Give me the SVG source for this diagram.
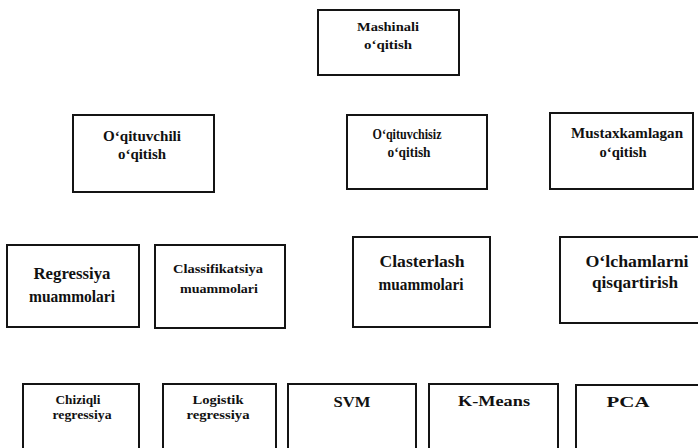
<svg xmlns="http://www.w3.org/2000/svg" width="698" height="448" viewBox="0 0 698 448">
<style>
rect.b{fill:#fff;stroke:#141414;stroke-width:2}
text{font-family:"Liberation Serif","Times New Roman",serif;font-weight:bold;fill:#111;text-anchor:middle}
.x{font-size:12px}
.s{font-size:13px}
.n{font-size:14px}
.m{font-size:15px}
.l{font-size:16px}
</style>
<rect width="698" height="448" fill="#fff"/>
<g id="connectors"></g>
<g id="n-mashinali">
<rect class="b" x="318" y="10" width="141" height="65"/>
<text class="s" x="388" y="31" textLength="62" lengthAdjust="spacingAndGlyphs">Mashinali</text>
<text class="s" x="388" y="49" textLength="48" lengthAdjust="spacingAndGlyphs">o‘qitish</text>
</g>
<g id="n-oqituvchili">
<rect class="b" x="73" y="115" width="141" height="77"/>
<text class="n" x="142" y="141" textLength="78" lengthAdjust="spacingAndGlyphs">O‘qituvchili</text>
<text class="n" x="142" y="159" textLength="48" lengthAdjust="spacingAndGlyphs">o‘qitish</text>
</g>
<g id="n-oqituvchisiz">
<rect class="b" x="347" y="115" width="140" height="74"/>
<text class="n" x="407" y="139" textLength="69" lengthAdjust="spacingAndGlyphs">O‘qituvchisiz</text>
<text class="n" x="409" y="157" textLength="43" lengthAdjust="spacingAndGlyphs">o‘qitish</text>
</g>
<g id="n-mustaxkamlagan">
<rect class="b" x="550" y="113" width="143" height="76"/>
<text class="n" x="627" y="138" textLength="112" lengthAdjust="spacingAndGlyphs">Mustaxkamlagan</text>
<text class="n" x="623" y="157" textLength="47" lengthAdjust="spacingAndGlyphs">o‘qitish</text>
</g>
<g id="n-regressiya">
<rect class="b" x="7" y="245" width="132" height="82"/>
<text class="l" x="72" y="279" textLength="77" lengthAdjust="spacingAndGlyphs">Regressiya</text>
<text class="l" x="72" y="302" textLength="86" lengthAdjust="spacingAndGlyphs">muammolari</text>
</g>
<g id="n-classifikatsiya">
<rect class="b" x="155" y="245" width="130" height="83"/>
<text class="s" x="218" y="273" textLength="90" lengthAdjust="spacingAndGlyphs">Classifikatsiya</text>
<text class="s" x="219" y="293" textLength="78" lengthAdjust="spacingAndGlyphs">muammolari</text>
</g>
<g id="n-clasterlash">
<rect class="b" x="353" y="237" width="137" height="90"/>
<text class="l" x="422" y="267" textLength="85" lengthAdjust="spacingAndGlyphs">Clasterlash</text>
<text class="l" x="421" y="290" textLength="85" lengthAdjust="spacingAndGlyphs">muammolari</text>
</g>
<g id="n-olchamlarni">
<rect class="b" x="560" y="237" width="142" height="86"/>
<text class="l" x="637" y="267" textLength="103" lengthAdjust="spacingAndGlyphs">O‘lchamlarni</text>
<text class="l" x="635" y="288" textLength="86" lengthAdjust="spacingAndGlyphs">qisqartirish</text>
</g>
<g id="n-chiziqli">
<rect class="b" x="23" y="384" width="116" height="70"/>
<text class="x" x="78" y="404" textLength="45" lengthAdjust="spacingAndGlyphs">Chiziqli</text>
<text class="x" x="82" y="419" textLength="59" lengthAdjust="spacingAndGlyphs">regressiya</text>
</g>
<g id="n-logistik">
<rect class="b" x="163" y="384" width="113" height="70"/>
<text class="x" x="218" y="404" textLength="51" lengthAdjust="spacingAndGlyphs">Logistik</text>
<text class="x" x="218" y="419" textLength="63" lengthAdjust="spacingAndGlyphs">regressiya</text>
</g>
<g id="n-svm">
<rect class="b" x="288" y="384" width="128" height="70"/>
<text class="m" x="352" y="407" textLength="37" lengthAdjust="spacingAndGlyphs">SVM</text>
</g>
<g id="n-kmeans">
<rect class="b" x="429" y="384" width="129" height="70"/>
<text class="m" x="494" y="406" textLength="72" lengthAdjust="spacingAndGlyphs">K-Means</text>
</g>
<g id="n-pca">
<rect class="b" x="576" y="385" width="126" height="70"/>
<text class="m" x="628" y="407" textLength="43" lengthAdjust="spacingAndGlyphs">PCA</text>
</g>
</svg>
